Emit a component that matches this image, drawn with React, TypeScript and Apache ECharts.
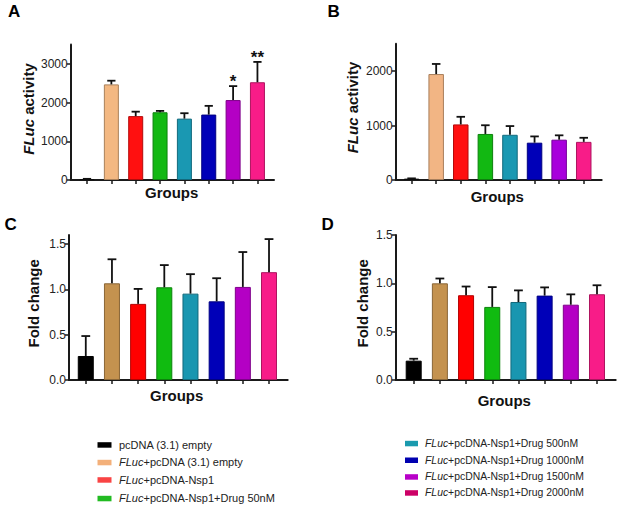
import React, { useEffect, useRef } from "react";
import * as echarts from "echarts";

// ---------- data ----------
const groups = [
  "pcDNA (3.1) empty",
  "FLuc+pcDNA (3.1) empty",
  "FLuc+pcDNA-Nsp1",
  "FLuc+pcDNA-Nsp1+Drug 50nM",
  "FLuc+pcDNA-Nsp1+Drug 500nM",
  "FLuc+pcDNA-Nsp1+Drug 1000nM",
  "FLuc+pcDNA-Nsp1+Drug 1500nM",
  "FLuc+pcDNA-Nsp1+Drug 2000nM",
];

const panelAMean = [20, 2470, 1650, 1750, 1585, 1690, 2065, 2525];
const panelAErr = [10, 95, 115, 35, 140, 225, 360, 525];
const panelASig = ["", "", "", "", "", "", "*", "**"];

const panelBMean = [25, 1945, 1020, 845, 830, 685, 740, 700];
const panelBErr = [5, 185, 140, 160, 160, 115, 80, 75];

const panelCMean = [0.265, 1.067, 0.84, 1.023, 0.953, 0.868, 1.027, 1.19];
const panelCErr = [0.22, 0.265, 0.165, 0.245, 0.215, 0.255, 0.385, 0.365];

const panelDMean = [0.2, 1.0, 0.877, 0.756, 0.807, 0.873, 0.779, 0.887];
const panelDErr = [0.02, 0.05, 0.09, 0.205, 0.12, 0.085, 0.107, 0.093];

const activityTicksA = [0, 1000, 2000, 3000];
const activityTicksB = [0, 1000, 2000];
const foldTicks = [0, 0.5, 1.0, 1.5];

// ---------- styles ----------
const FONT = "'Liberation Sans', Arial, Helvetica, sans-serif";
const INK = "#1a1a1a";

const colorsA = ["#111111", "#f3b882", "#ff1010", "#12b812", "#1a98b2", "#0000b8", "#b400c4", "#f81c88"];
const colorsB = ["#111111", "#f2b584", "#ff1010", "#12b812", "#1a98b2", "#0000b8", "#a800dc", "#f81c88"];
const colorsCD = ["#000000", "#c4924f", "#ff0000", "#10bb10", "#1996b0", "#0000b8", "#b400c4", "#f81c88"];
const legendColors = ["#000000", "#f3b07a", "#f94444", "#22bb22", "#1a9aae", "#0000b0", "#b800c8", "#cc0066"];

function darken(hex: string, f = 0.7) {
  const n = parseInt(hex.slice(1), 16);
  const r = Math.round(((n >> 16) & 255) * f);
  const g = Math.round(((n >> 8) & 255) * f);
  const b = Math.round((n & 255) * f);
  return `rgb(${r},${g},${b})`;
}

type Panel = {
  mean: number[];
  err: number[];
  sig?: string[];
  colors: string[];
  ticks: number[];
  max: number;
  fmt: (v: number) => string;
  grid: { left: number; top: number; width: number; height: number };
  xMin: number;
  xMax: number;
  barWidth: number;
  letter: string;
  letterPos: [number, number];
  yName: string;
  yNamePos: [number, number];
  xNamePos: [number, number];
};

const panels: Panel[] = [
  {
    mean: panelAMean, err: panelAErr, sig: panelASig, colors: colorsA,
    ticks: activityTicksA, max: 3500, fmt: (v) => String(v),
    grid: { left: 70.7, top: 44.5, width: 203.3, height: 135.5 },
    xMin: -0.67, xMax: 7.68, barWidth: 15,
    letter: "A", letterPos: [8, 11], yName: "FLuc activity", yNamePos: [28.5, 109], xNamePos: [171.7, 192],
  },
  {
    mean: panelBMean, err: panelBErr, colors: colorsB,
    ticks: activityTicksB, max: 2500, fmt: (v) => String(v),
    grid: { left: 395.7, top: 43.8, width: 206, height: 136.2 },
    xMin: -0.646, xMax: 7.73, barWidth: 15.5,
    letter: "B", letterPos: [327.5, 11], yName: "FLuc activity", yNamePos: [352, 107.5], xNamePos: [497.3, 196],
  },
  {
    mean: panelCMean, err: panelCErr, colors: colorsCD,
    ticks: foldTicks, max: 1.6, fmt: (v) => v.toFixed(1),
    grid: { left: 69, top: 235, width: 218.7, height: 145 },
    xMin: -0.641, xMax: 7.714, barWidth: 16,
    letter: "C", letterPos: [4.5, 224], yName: "Fold change", yNamePos: [33.5, 303.3], xNamePos: [176.7, 395.3],
  },
  {
    mean: panelDMean, err: panelDErr, colors: colorsCD,
    ticks: foldTicks, max: 1.5, fmt: (v) => v.toFixed(1),
    grid: { left: 395.7, top: 235, width: 220, height: 145 },
    xMin: -0.687, xMax: 7.714, barWidth: 16,
    letter: "D", letterPos: [321.5, 224], yName: "Fold change", yNamePos: [362, 303.3], xNamePos: [504.3, 400.3],
  },
];

const legendLayout = [
  { sx: 97.5, sw: 14, tx: 119, fs: 11, rows: [444.7, 462.3, 479.7, 498.3] },
  { sx: 405, sw: 13, tx: 425, fs: 10.4, rows: [443.3, 460, 476.7, 492.7] },
];

function richLabel(s: string) {
  return s.startsWith("FLuc") ? "{i|FLuc}" + s.slice(4) : s;
}

function buildOption() {
  const grid: any[] = [];
  const xAxis: any[] = [];
  const yAxis: any[] = [];
  const series: any[] = [];
  const graphic: any[] = [];
  const idx = groups.map((_, i) => i);

  panels.forEach((p, k) => {
    grid.push({ ...p.grid, containLabel: false, outerBoundsMode: "none" });
    xAxis.push({
      type: "value", gridIndex: k, min: p.xMin, max: p.xMax,
      splitLine: { show: false },
      axisLine: { show: true, onZero: false, lineStyle: { color: INK, width: 2 } },
      axisTick: { show: true, customValues: idx, length: 4, lineStyle: { color: INK, width: 1.5 } },
      axisLabel: { show: false },
    });
    yAxis.push({
      type: "value", gridIndex: k, min: 0, max: p.max,
      splitLine: { show: false },
      axisLine: { show: true, onZero: false, lineStyle: { color: INK, width: 2 } },
      axisTick: { show: true, customValues: p.ticks, length: 4, lineStyle: { color: INK, width: 1.5 } },
      axisLabel: {
        show: true, customValues: p.ticks, margin: 3, fontSize: 12, color: "#222",
        fontFamily: FONT, formatter: (v: number) => p.fmt(v),
      },
    });
    series.push({
      type: "bar", xAxisIndex: k, yAxisIndex: k, barWidth: p.barWidth, z: 2,
      data: p.mean.map((v, i) => ({
        value: [i, v],
        itemStyle: { color: p.colors[i], borderColor: darken(p.colors[i]), borderWidth: 1 },
      })),
    });
    const cap = p.barWidth * 0.55;
    series.push({
      type: "custom", xAxisIndex: k, yAxisIndex: k, z: 3, clip: false,
      data: p.mean.map((v, i) => [i, v, p.err[i]]),
      renderItem: (params: any, api: any) => {
        const x = api.value(0);
        const top = api.value(1);
        const e = api.value(2);
        const p1 = api.coord([x, top]);
        const p2 = api.coord([x, top + e]);
        const st = { stroke: "#111", lineWidth: 1.8 };
        const children: any[] = [
          { type: "line", shape: { x1: p1[0], y1: p1[1], x2: p2[0], y2: p2[1] }, style: st },
          { type: "line", shape: { x1: p2[0] - cap / 2, y1: p2[1], x2: p2[0] + cap / 2, y2: p2[1] }, style: st },
        ];
        const s = p.sig ? p.sig[params.dataIndex] : "";
        if (s) {
          children.push({
            type: "text", x: p2[0], y: p2[1] - 4.5,
            style: { text: s, fontSize: 17, fontWeight: "bold", fontFamily: FONT, fill: "#111", align: "center", verticalAlign: "middle" },
          });
        }
        return { type: "group", children };
      },
    });

    graphic.push({
      type: "text", x: p.letterPos[0], y: p.letterPos[1],
      style: { text: p.letter, fontSize: 17, fontWeight: "bold", fontFamily: FONT, fill: "#000", align: "left", verticalAlign: "middle" },
    });
    graphic.push({
      type: "text", x: p.yNamePos[0], y: p.yNamePos[1], rotation: Math.PI / 2,
      style: {
        text: richLabel(p.yName), fontSize: 15, fontWeight: "bold", fontFamily: FONT, fill: "#111",
        align: "center", verticalAlign: "middle",
        rich: { i: { fontStyle: "italic", fontWeight: "bold", fontSize: 15, fontFamily: FONT, fill: "#111" } },
      },
    });
    graphic.push({
      type: "text", x: p.xNamePos[0], y: p.xNamePos[1],
      style: { text: "Groups", fontSize: 15, fontWeight: "bold", fontFamily: FONT, fill: "#111", align: "center", verticalAlign: "middle" },
    });
  });

  groups.forEach((g, i) => {
    const L = legendLayout[i < 4 ? 0 : 1];
    const y = L.rows[i % 4];
    graphic.push({
      type: "rect", shape: { x: L.sx, y: y - 2.5, width: L.sw, height: 5.5 },
      style: { fill: legendColors[i] },
    });
    graphic.push({
      type: "text", x: L.tx, y,
      style: {
        text: richLabel(g), fontSize: L.fs, fontFamily: FONT, fill: "#222", align: "left", verticalAlign: "middle",
        rich: { i: { fontStyle: "italic", fontSize: L.fs, fontFamily: FONT, fill: "#222" } },
      },
    });
  });

  return {
    animation: false,
    backgroundColor: "#ffffff",
    grid, xAxis, yAxis, series, graphic,
  };
}

export default function App() {
  const ref = useRef<HTMLDivElement>(null);
  useEffect(() => {
    if (!ref.current) return;
    const chart = echarts.init(ref.current, null, { renderer: "svg" });
    chart.setOption(buildOption() as any);
    return () => chart.dispose();
  }, []);
  return (
    <div
      ref={ref}
      style={{ position: "fixed", left: 0, top: 0, width: 617, height: 505, background: "#fff" }}
    />
  );
}
